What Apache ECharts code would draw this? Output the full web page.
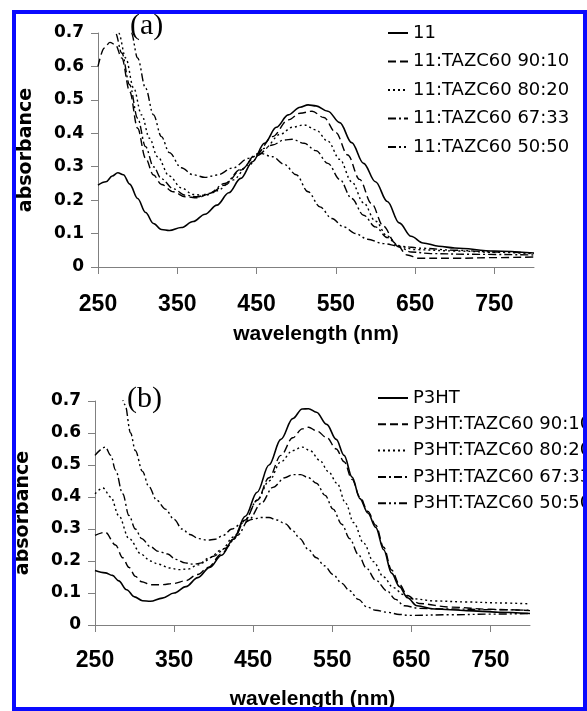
<!DOCTYPE html>
<html>
<head>
<meta charset="utf-8">
<script src="https://cdn.jsdelivr.net/npm/echarts@6/dist/echarts.min.js"></script>
<style>
html,body{margin:0;padding:0;background:#fff;}
#chart{width:587px;height:711px;}
</style>
</head>
<body>
<div id="chart"></div>
<script>
// ---------- tick labels ----------
const wlTicks = [250, 350, 450, 550, 650, 750];
const absMin = 0, absMax = 0.7, absStep = 0.1;

// ---------- panel (a): 11 and blends with TAZC60 ----------
const namesA = ['11', '11:TAZC60 90:10', '11:TAZC60 80:20', '11:TAZC60 67:33', '11:TAZC60 50:50'];
const a_11 = [[250,0.245],[260,0.255],[268,0.272],[275,0.282],[282,0.276],[290,0.248],[300,0.205],[310,0.163],[320,0.13],[330,0.112],[340,0.109],[355,0.118],[370,0.136],[385,0.158],[400,0.185],[415,0.222],[430,0.265],[445,0.315],[460,0.37],[475,0.418],[490,0.455],[505,0.478],[515,0.485],[525,0.482],[540,0.466],[555,0.432],[570,0.372],[585,0.31],[600,0.255],[615,0.196],[630,0.132],[645,0.092],[660,0.072],[680,0.062],[700,0.057],[750,0.048],[800,0.042]];
const a_9010 = [[250,0.6],[258,0.655],[265,0.672],[272,0.665],[280,0.625],[290,0.525],[300,0.415],[310,0.325],[320,0.275],[330,0.247],[345,0.225],[360,0.21],[375,0.207],[390,0.218],[410,0.245],[430,0.29],[450,0.338],[470,0.39],[490,0.44],[505,0.46],[520,0.466],[535,0.447],[550,0.402],[565,0.335],[580,0.262],[595,0.19],[610,0.122],[625,0.072],[640,0.036],[655,0.026],[700,0.026],[750,0.028],[800,0.03]];
const a_8020 = [[268,0.74],[276,0.70],[285,0.625],[295,0.535],[305,0.455],[315,0.385],[325,0.33],[340,0.272],[355,0.237],[370,0.217],[385,0.214],[400,0.228],[420,0.26],[440,0.305],[460,0.355],[480,0.397],[495,0.418],[510,0.425],[525,0.41],[540,0.376],[555,0.322],[570,0.255],[585,0.192],[600,0.137],[615,0.092],[630,0.062],[650,0.052],[700,0.048],[750,0.044],[800,0.04]];
const a_6733 = [[265,0.74],[272,0.70],[280,0.64],[290,0.545],[300,0.445],[310,0.36],[320,0.3],[330,0.264],[345,0.234],[360,0.215],[375,0.21],[390,0.22],[410,0.25],[430,0.292],[450,0.333],[470,0.365],[485,0.38],[495,0.382],[510,0.37],[525,0.348],[540,0.31],[555,0.262],[570,0.205],[585,0.155],[600,0.12],[615,0.088],[630,0.06],[645,0.045],[670,0.04],[720,0.038],[800,0.036]];
const a_5050 = [[285,0.76],[292,0.70],[300,0.625],[310,0.535],[320,0.455],[330,0.39],[340,0.342],[355,0.297],[370,0.276],[385,0.268],[400,0.275],[420,0.296],[440,0.325],[455,0.34],[470,0.33],[485,0.307],[500,0.276],[515,0.225],[530,0.18],[545,0.145],[560,0.12],[575,0.1],[590,0.083],[610,0.07],[630,0.062],[660,0.056],[700,0.05],[750,0.045],[800,0.042]];

// ---------- panel (b): P3HT and blends with TAZC60 ----------
const namesB = ['P3HT', 'P3HT:TAZC60 90:10', 'P3HT:TAZC60 80:20', 'P3HT:TAZC60 67:33', 'P3HT:TAZC60 50:50'];
const b_P3HT = [[250,0.17],[263,0.163],[272,0.155],[280,0.138],[290,0.11],[300,0.088],[310,0.076],[320,0.074],[335,0.084],[350,0.1],[365,0.12],[380,0.148],[395,0.18],[410,0.218],[425,0.268],[440,0.34],[455,0.415],[470,0.5],[485,0.58],[500,0.645],[512,0.675],[520,0.676],[530,0.665],[543,0.627],[555,0.58],[565,0.53],[575,0.462],[585,0.395],[595,0.35],[605,0.305],[615,0.235],[625,0.162],[635,0.12],[645,0.085],[657,0.06],[680,0.05],[720,0.045],[760,0.04],[800,0.036]];
const b_9010 = [[250,0.28],[263,0.29],[276,0.25],[285,0.21],[293,0.18],[301,0.152],[309,0.135],[320,0.126],[335,0.126],[350,0.13],[364,0.138],[380,0.158],[393,0.18],[410,0.222],[425,0.268],[440,0.328],[455,0.39],[470,0.46],[485,0.53],[500,0.585],[512,0.613],[520,0.618],[530,0.607],[543,0.586],[555,0.55],[565,0.51],[575,0.455],[585,0.4],[595,0.355],[605,0.312],[615,0.243],[625,0.172],[635,0.127],[645,0.092],[660,0.067],[700,0.056],[750,0.049],[800,0.045]];
const b_8020 = [[250,0.41],[260,0.428],[270,0.4],[280,0.342],[293,0.27],[309,0.22],[320,0.2],[330,0.19],[345,0.178],[356,0.173],[368,0.175],[380,0.188],[395,0.21],[410,0.235],[425,0.275],[440,0.33],[455,0.39],[470,0.45],[485,0.51],[500,0.545],[512,0.556],[522,0.545],[534,0.515],[545,0.48],[556,0.443],[567,0.38],[577,0.32],[590,0.255],[602,0.198],[615,0.15],[627,0.117],[640,0.095],[652,0.082],[680,0.075],[720,0.072],[760,0.069],[800,0.066]];
const b_6733 = [[250,0.53],[263,0.556],[270,0.53],[276,0.484],[285,0.41],[293,0.342],[301,0.3],[309,0.27],[320,0.245],[330,0.23],[342,0.222],[352,0.205],[364,0.194],[375,0.19],[385,0.194],[400,0.215],[415,0.24],[430,0.28],[445,0.33],[460,0.38],[475,0.43],[490,0.46],[500,0.47],[510,0.47],[520,0.46],[530,0.443],[541,0.405],[551,0.362],[562,0.315],[572,0.27],[583,0.22],[593,0.178],[605,0.14],[619,0.107],[630,0.08],[641,0.06],[660,0.052],[700,0.05],[750,0.048],[800,0.046]];
const b_5050 = [[282,0.74],[288,0.688],[295,0.6],[301,0.545],[310,0.48],[318,0.433],[328,0.39],[339,0.362],[350,0.33],[360,0.3],[370,0.283],[381,0.27],[392,0.265],[402,0.268],[412,0.28],[423,0.3],[436,0.318],[449,0.33],[460,0.336],[470,0.336],[480,0.328],[491,0.316],[500,0.295],[509,0.27],[520,0.235],[530,0.21],[540,0.185],[551,0.158],[562,0.13],[572,0.107],[583,0.08],[594,0.056],[605,0.046],[619,0.04],[635,0.033],[648,0.03],[700,0.032],[750,0.034],[800,0.036]];

const dataA = [a_11, a_9010, a_8020, a_6733, a_5050];
const dataB = [b_P3HT, b_9010, b_8020, b_6733, b_5050];
const dashTypes = ['solid', [8, 4], [2, 3], [8, 3, 2, 3], [8, 3, 2, 3, 2, 3]];

const chart = echarts.init(document.getElementById('chart'), null, {renderer: 'canvas'});

function xAxisCfg(gridIndex, labelMargin, nameGap) {
  return {
    type: 'value', gridIndex, min: 250, max: 800, interval: 50,
    name: 'wavelength (nm)', nameLocation: 'middle', nameGap,
    nameTextStyle: {fontFamily: 'Liberation Sans', fontWeight: 'bold', fontSize: 21, color: '#000'},
    axisLine: {show: true, lineStyle: {color: '#808080', width: 1}},
    axisTick: {show: true, length: 7, inside: false, customValues: wlTicks, lineStyle: {color: '#808080'}},
    axisLabel: {customValues: wlTicks, margin: labelMargin, fontFamily: 'Liberation Sans', fontWeight: 'bold', fontSize: 23, color: '#000'},
    splitLine: {show: false}
  };
}
function yAxisCfg(gridIndex, nameGap) {
  return {
    type: 'value', gridIndex, min: absMin, max: absMax, interval: absStep,
    name: 'absorbance', nameLocation: 'middle', nameGap,
    nameTextStyle: {fontFamily: 'DejaVu Sans', fontWeight: 'bold', fontSize: 19, color: '#000'},
    axisLine: {show: true, lineStyle: {color: '#808080', width: 1}},
    axisTick: {show: true, length: 7, lineStyle: {color: '#808080'}},
    axisLabel: {margin: 14, fontFamily: 'DejaVu Sans', fontWeight: 'bold', fontSize: 17, color: '#000',
      formatter: v => (Math.abs(v) < 1e-9 ? '0' : v.toFixed(1))},
    splitLine: {show: false}
  };
}

const series = [];
namesA.forEach((n, i) => series.push({
  name: n, type: 'line', xAxisIndex: 0, yAxisIndex: 0, data: dataA[i],
  symbol: 'none', showSymbol: false, smooth: 0.35, smoothMonotone: 'x', clip: true,
  lineStyle: {color: '#000', width: i === 0 ? 1.6 : 1.4, type: dashTypes[i]}
}));
namesB.forEach((n, i) => series.push({
  name: n, type: 'line', xAxisIndex: 1, yAxisIndex: 1, data: dataB[i],
  symbol: 'none', showSymbol: false, smooth: 0.35, smoothMonotone: 'x', clip: true,
  lineStyle: {color: '#000', width: i === 0 ? 1.6 : 1.4, type: dashTypes[i]}
}));

chart.setOption({
  animation: false,
  backgroundColor: '#fff',
  grid: [
    {left: 98, top: 33, width: 436, height: 234, containLabel: false},
    {left: 95, top: 401, width: 435, height: 229, containLabel: false}
  ],
  xAxis: [xAxisCfg(0, 26, 57), xAxisCfg(1, 24, 64)],
  yAxis: [yAxisCfg(0, 62), yAxisCfg(1, 62)],
  legend: [
    {data: namesA, orient: 'vertical', left: 387, top: 24, padding: 0,
      itemWidth: 20, itemHeight: 10, itemGap: 10.5, itemTextGap: 3, selectedMode: false,
      itemStyle: {opacity: 0},
      textStyle: {fontFamily: 'DejaVu Sans', fontSize: 18, color: '#000'}},
    {data: namesB, orient: 'vertical', left: 377, top: 389, padding: 0,
      itemWidth: 30, itemHeight: 10, itemGap: 8.3, itemTextGap: 5, selectedMode: false,
      itemStyle: {opacity: 0},
      textStyle: {fontFamily: 'DejaVu Sans', fontSize: 18, color: '#000'}}
  ],
  graphic: [
    {type: 'text', left: 130, top: 11, z: 50,
      style: {text: '(a)', font: '30px "Liberation Serif"', fill: '#000'}},
    {type: 'text', left: 127, top: 384, z: 50,
      style: {text: '(b)', font: '30px "Liberation Serif"', fill: '#000'}},
    {type: 'rect', z: 100, silent: true,
      shape: {x: 14, y: 12, width: 571, height: 697},
      style: {fill: 'none', stroke: '#0a0aff', lineWidth: 4}}
  ],
  series
});
</script>
</body>
</html>
